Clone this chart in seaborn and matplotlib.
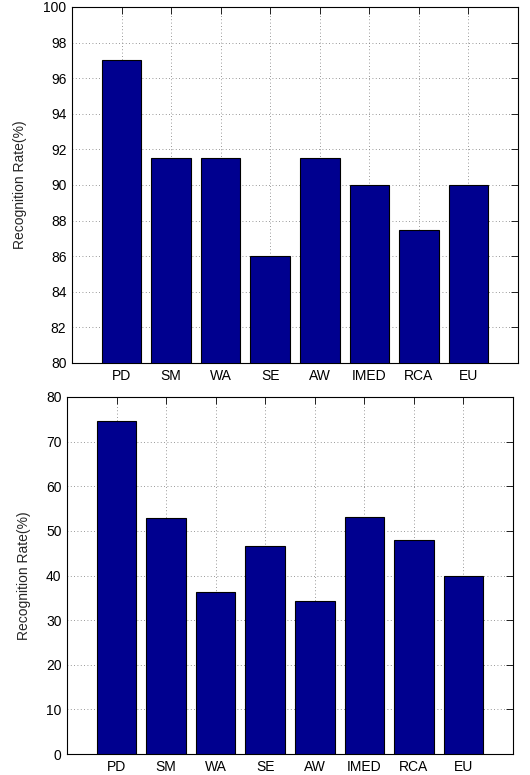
import pandas as pd
import matplotlib
matplotlib.use("Agg")
import matplotlib.pyplot as plt
import seaborn as sns

methods = ["PD", "SM", "WA", "SE", "AW", "IMED", "RCA", "EU"]
rate_top = [97.0, 91.5, 91.5, 86.0, 91.5, 90.0, 87.5, 90.0]
rate_bottom = [74.6, 52.8, 36.3, 46.7, 34.3, 53.0, 47.9, 39.9]

sns.set_style("white")
plt.rcParams["font.family"] = ["Liberation Sans", "DejaVu Sans"]
plt.rcParams["font.size"] = 10

bar_color = "#00008F"

fig = plt.figure(figsize=(5.3, 7.75), dpi=100)
# axes positions in figure fractions (matlab-like layout)
ax1 = fig.add_axes([72 / 530, 1 - 363 / 775, 446 / 530, 356 / 775])
ax2 = fig.add_axes([67 / 530, 1 - 754 / 775, 446 / 530, 357 / 775])


def draw(ax, values, ylim, yticks):
    df = pd.DataFrame({"method": methods, "rate": values})
    sns.barplot(data=df, x="method", y="rate", order=methods, color=bar_color,
                width=0.8, edgecolor="black", linewidth=0.8, saturation=1,
                ax=ax, zorder=3)
    ax.set_xlim(-1, len(methods))
    ax.set_ylim(*ylim)
    ax.set_yticks(yticks)
    ax.set_xlabel("")
    ax.set_ylabel("Recognition Rate(%)", fontsize=10)
    ax.grid(True, linestyle=(0, (1, 3)), color="#777777", linewidth=0.6, zorder=0)
    ax.set_axisbelow(True)
    ax.tick_params(direction="in", top=True, right=True, length=5,
                   width=0.6, labelsize=10, colors="black", pad=4)
    for s in ax.spines.values():
        s.set_visible(True)
        s.set_color("black")
        s.set_linewidth(0.8)


draw(ax1, rate_top, (80, 100), range(80, 101, 2))
draw(ax2, rate_bottom, (0, 80), range(0, 81, 10))
ax1.yaxis.set_label_coords(-0.101, 0.5)
ax2.yaxis.set_label_coords(-0.08, 0.5)

fig.savefig("out.png", dpi=100)
